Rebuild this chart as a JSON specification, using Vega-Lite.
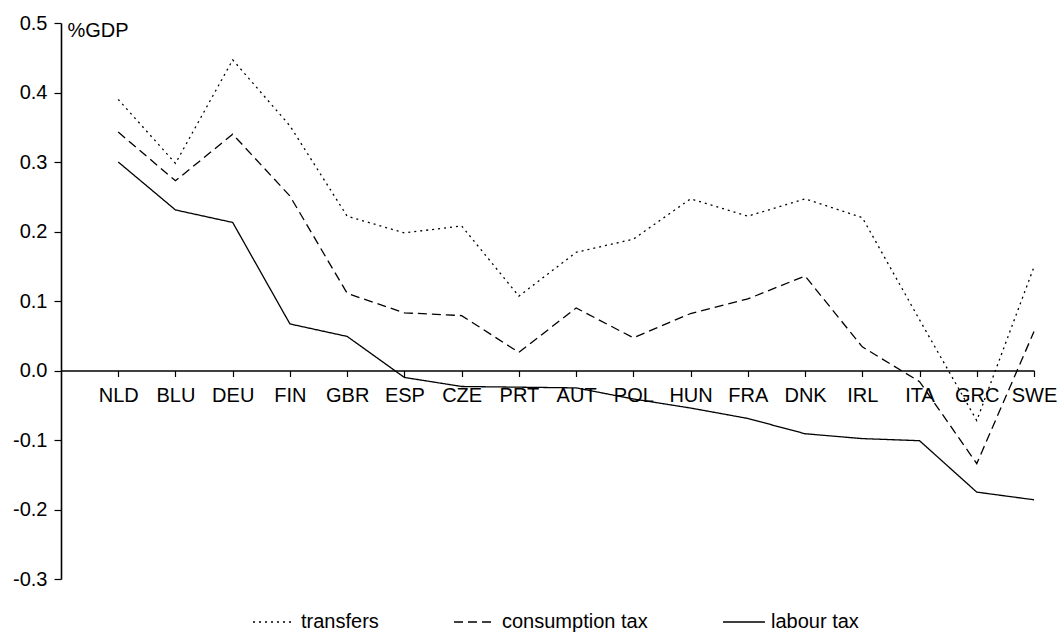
{
  "$schema": "https://vega.github.io/schema/vega-lite/v6.json",
  "autosize": "none",
  "width": 973,
  "height": 556,
  "padding": {"left": 61, "top": 23, "right": 25, "bottom": 53},
  "background": "white",
  "config": {
    "view": {"stroke": null},
    "font": "Liberation Sans",
    "axis": {"labelFont": "Liberation Sans", "titleFont": "Liberation Sans", "labelColor": "black", "titleColor": "black", "domainColor": "black", "tickColor": "black", "grid": false},
    "legend": {"labelFont": "Liberation Sans"}
  },
  "data": {
    "values": [
      {"country": "NLD", "series": "transfers", "value": 0.390},
      {"country": "BLU", "series": "transfers", "value": 0.298},
      {"country": "DEU", "series": "transfers", "value": 0.447},
      {"country": "FIN", "series": "transfers", "value": 0.352},
      {"country": "GBR", "series": "transfers", "value": 0.222},
      {"country": "ESP", "series": "transfers", "value": 0.198},
      {"country": "CZE", "series": "transfers", "value": 0.208},
      {"country": "PRT", "series": "transfers", "value": 0.107},
      {"country": "AUT", "series": "transfers", "value": 0.170},
      {"country": "POL", "series": "transfers", "value": 0.189},
      {"country": "HUN", "series": "transfers", "value": 0.247},
      {"country": "FRA", "series": "transfers", "value": 0.222},
      {"country": "DNK", "series": "transfers", "value": 0.247},
      {"country": "IRL", "series": "transfers", "value": 0.220},
      {"country": "ITA", "series": "transfers", "value": 0.073},
      {"country": "GRC", "series": "transfers", "value": -0.072},
      {"country": "SWE", "series": "transfers", "value": 0.149},
      {"country": "NLD", "series": "consumption tax", "value": 0.343},
      {"country": "BLU", "series": "consumption tax", "value": 0.273},
      {"country": "DEU", "series": "consumption tax", "value": 0.340},
      {"country": "FIN", "series": "consumption tax", "value": 0.251},
      {"country": "GBR", "series": "consumption tax", "value": 0.111},
      {"country": "ESP", "series": "consumption tax", "value": 0.083},
      {"country": "CZE", "series": "consumption tax", "value": 0.079},
      {"country": "PRT", "series": "consumption tax", "value": 0.026},
      {"country": "AUT", "series": "consumption tax", "value": 0.090},
      {"country": "POL", "series": "consumption tax", "value": 0.047},
      {"country": "HUN", "series": "consumption tax", "value": 0.082},
      {"country": "FRA", "series": "consumption tax", "value": 0.103},
      {"country": "DNK", "series": "consumption tax", "value": 0.136},
      {"country": "IRL", "series": "consumption tax", "value": 0.034},
      {"country": "ITA", "series": "consumption tax", "value": -0.016},
      {"country": "GRC", "series": "consumption tax", "value": -0.134},
      {"country": "SWE", "series": "consumption tax", "value": 0.056},
      {"country": "NLD", "series": "labour tax", "value": 0.300},
      {"country": "BLU", "series": "labour tax", "value": 0.231},
      {"country": "DEU", "series": "labour tax", "value": 0.213},
      {"country": "FIN", "series": "labour tax", "value": 0.067},
      {"country": "GBR", "series": "labour tax", "value": 0.049},
      {"country": "ESP", "series": "labour tax", "value": -0.010},
      {"country": "CZE", "series": "labour tax", "value": -0.023},
      {"country": "PRT", "series": "labour tax", "value": -0.024},
      {"country": "AUT", "series": "labour tax", "value": -0.025},
      {"country": "POL", "series": "labour tax", "value": -0.041},
      {"country": "HUN", "series": "labour tax", "value": -0.054},
      {"country": "FRA", "series": "labour tax", "value": -0.069},
      {"country": "DNK", "series": "labour tax", "value": -0.091},
      {"country": "IRL", "series": "labour tax", "value": -0.098},
      {"country": "ITA", "series": "labour tax", "value": -0.101},
      {"country": "GRC", "series": "labour tax", "value": -0.175},
      {"country": "SWE", "series": "labour tax", "value": -0.186}
    ]
  },
  "mark": {"type": "line", "color": "black", "strokeWidth": 1.3},
  "encoding": {
    "x": {
      "field": "country",
      "type": "nominal",
      "sort": null,
      "scale": {"type": "point", "padding": 0, "domain": ["", "NLD", "BLU", "DEU", "FIN", "GBR", "ESP", "CZE", "PRT", "AUT", "POL", "HUN", "FRA", "DNK", "IRL", "ITA", "GRC", "SWE"]},
      "axis": {
        "title": null,
        "orient": "bottom",
        "offset": -208.5,
        "values": ["NLD", "BLU", "DEU", "FIN", "GBR", "ESP", "CZE", "PRT", "AUT", "POL", "HUN", "FRA", "DNK", "IRL", "ITA", "GRC", "SWE"],
        "labelAngle": 0,
        "labelFontSize": 20,
        "tickSize": 6,
        "labelPadding": 9,
        "domainWidth": 1.3,
        "tickWidth": 1.2
      }
    },
    "y": {
      "field": "value",
      "type": "quantitative",
      "scale": {"domain": [-0.3, 0.5], "nice": false, "zero": false},
      "axis": {
        "title": "%GDP",
        "titleAngle": 0,
        "titleAlign": "left",
        "titleBaseline": "top",
        "titleX": 6,
        "titleY": -3,
        "titleFontSize": 20,
        "titleFontWeight": "normal",
        "values": [-0.3, -0.2, -0.1, 0, 0.1, 0.2, 0.3, 0.4, 0.5],
        "labelExpr": "(datum.value < -0.0001 ? '-' : '') + format(abs(datum.value), '.1f')",
        "labelFontSize": 20,
        "tickSize": 7,
        "labelPadding": 7,
        "domainWidth": 1.6,
        "tickWidth": 1.2
      }
    },
    "strokeDash": {
      "field": "series",
      "type": "nominal",
      "scale": {"domain": ["transfers", "consumption tax", "labour tax"], "range": [[2, 4], [9, 5], [1, 0]]},
      "legend": {
        "title": null,
        "orient": "none",
        "legendX": 191,
        "legendY": 577,
        "direction": "horizontal",
        "columns": 3,
        "columnPadding": 72,
        "labelFontSize": 20,
        "labelColor": "black",
        "labelOffset": 5,
        "symbolType": "stroke",
        "symbolSize": 1764,
        "symbolStrokeWidth": 1.3,
        "symbolStrokeColor": "black"
      }
    }
  }
}
